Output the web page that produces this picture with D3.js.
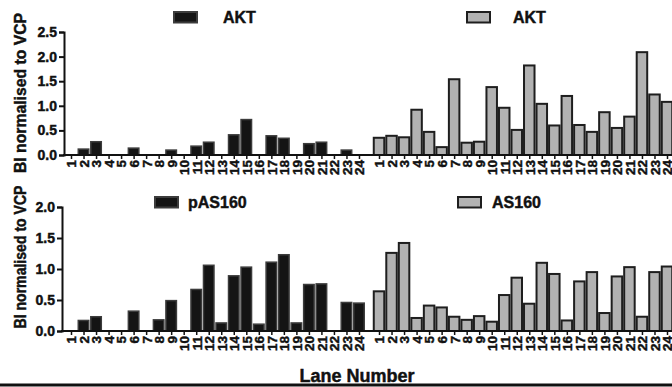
<!DOCTYPE html>
<html>
<head>
<meta charset="utf-8">
<script src="https://cdn.jsdelivr.net/npm/d3@7"></script>
<style>
  html, body { margin: 0; padding: 0; background: #fff; }
  svg { display: block; font-family: "Liberation Sans", Arial, sans-serif; font-weight: bold; }
  svg text { stroke: #111; stroke-width: 0.45px; }
</style>
</head>
<body>
<svg id="chart" width="672" height="387"></svg>
<script>
// lane labels, same 24 lanes for each group
const lanes = ["1","2","3","4","5","6","7","8","9","10","11","12","13","14","15","16","17","18","19","20","21","22","23","24"];

// top panel
const aktLeft  = [0, 0.12, 0.27, 0, 0, 0.14, 0, 0, 0.10, 0, 0.18, 0.26, 0, 0.41, 0.72, 0, 0.39, 0.34, 0, 0.23, 0.26, 0, 0.10, 0];
const aktRight = [0.35, 0.39, 0.36, 0.92, 0.47, 0.16, 1.54, 0.25, 0.27, 1.38, 0.96, 0.51, 1.82, 1.04, 0.60, 1.20, 0.61, 0.47, 0.87, 0.55, 0.78, 2.09, 1.23, 1.08];

// bottom panel
const pas160 = [0, 0.17, 0.23, 0, 0, 0.32, 0, 0.18, 0.49, 0, 0.67, 1.06, 0.13, 0.89, 1.03, 0.11, 1.11, 1.23, 0.13, 0.75, 0.76, 0, 0.46, 0.45];
const as160  = [0.64, 1.26, 1.42, 0.21, 0.41, 0.38, 0.23, 0.18, 0.24, 0.15, 0.58, 0.86, 0.44, 1.10, 0.92, 0.17, 0.80, 0.95, 0.29, 0.88, 1.03, 0.23, 0.95, 1.04];

const topTicks = [0, 0.5, 1.0, 1.5, 2.0, 2.5];
const bottomTicks = [0, 0.5, 1.0, 1.5, 2.0];

const legendTop = ["AKT", "AKT"];
const legendBottom = ["pAS160", "AS160"];

const W = 672, H = 387;
const svg = d3.select("#chart");

const blackFill = "#141414", blackStroke = "#3c3c3c";
const greyFill = "#b2b2b2", greyStroke = "#1e1e1e";

// gap between the two groups, in lane units
const gap = 0.6;
const n = lanes.length;
const pos = (group, i) => group * (n + gap) + i + 1;

const x = d3.scaleLinear()
  .domain([1, pos(1, n - 1)])
  .range([71, 667]);

const barW = 10.5;

function panel(opts) {
  const {axisX, y0, y1, ticks, left, right, legend, legendY, legendX, title, titleY, titleLen} = opts;

  const y = d3.scaleLinear()
    .domain([0, d3.max(ticks)])
    .range([y0, y1]);

  const g = svg.append("g");

  // bars
  const bars = [
    ...left.map((v, i) => ({v, p: pos(0, i), grp: 0})),
    ...right.map((v, i) => ({v, p: pos(1, i), grp: 1}))
  ].filter(d => d.v > 0);

  g.selectAll("rect.bar")
    .data(bars)
    .join("rect")
    .attr("class", "bar")
    .attr("x", d => x(d.p) - barW / 2)
    .attr("y", d => y(d.v))
    .attr("width", barW)
    .attr("height", d => y(0) - y(d.v))
    .attr("fill", d => d.grp ? greyFill : blackFill)
    .attr("stroke", d => d.grp ? greyStroke : blackStroke)
    .attr("stroke-width", d => d.grp ? 2 : 1.5);

  // y axis
  const yAxis = g.append("g")
    .attr("transform", `translate(${axisX},0)`)
    .call(d3.axisLeft(y).tickValues(ticks).tickFormat(d3.format(".1f")).tickSize(5).tickPadding(2));
  yAxis.select(".domain").attr("stroke", "#111").attr("stroke-width", 2);
  yAxis.selectAll(".tick line").attr("stroke", "#111").attr("stroke-width", 2);
  yAxis.selectAll(".tick text")
    .attr("font-size", 14).attr("font-weight", "bold").attr("fill", "#111")
    .attr("font-family", "Liberation Sans, Arial, sans-serif");

  // x axis
  const tickPos = [...lanes.map((l, i) => pos(0, i)), ...lanes.map((l, i) => pos(1, i))];
  const xAxis = g.append("g")
    .attr("transform", `translate(0,${y0})`)
    .call(d3.axisBottom(x).tickValues(tickPos).tickFormat((d, i) => lanes[i % n]).tickSize(4).tickPadding(2));
  xAxis.select(".domain").remove();
  xAxis.selectAll(".tick line").attr("stroke", "#111").attr("stroke-width", 1.5);
  xAxis.selectAll(".tick text")
    .attr("font-size", 13.5).attr("font-weight", "bold").attr("fill", "#111")
    .attr("font-family", "Liberation Sans, Arial, sans-serif")
    .attr("text-anchor", "end")
    .attr("transform", "rotate(-90)")
    .attr("x", -5)
    .attr("y", 0)
    .attr("dy", "0.36em");

  g.append("line")
    .attr("x1", axisX - 1).attr("x2", W)
    .attr("y1", y0).attr("y2", y0)
    .attr("stroke", "#111").attr("stroke-width", 2);

  // legends
  legend.forEach((name, k) => {
    const lx = legendX[k];
    g.append("rect")
      .attr("x", lx).attr("y", legendY - 10)
      .attr("width", 23).attr("height", 10.5)
      .attr("fill", k ? greyFill : blackFill)
      .attr("stroke", k ? greyStroke : blackStroke)
      .attr("stroke-width", 2);
    g.append("text")
      .attr("x", lx + opts.legendGap[k]).attr("y", legendY + 1)
      .attr("font-size", 16).attr("fill", "#111")
      .text(name);
  });

  // y title
  g.append("text")
    .attr("transform", `translate(26,${titleY}) rotate(-90)`)
    .attr("text-anchor", "middle")
    .attr("font-size", 16).attr("fill", "#111")
    .attr("textLength", titleLen).attr("lengthAdjust", "spacingAndGlyphs")
    .text(title);
}

panel({
  axisX: 64, y0: 155, y1: 32, ticks: topTicks,
  left: aktLeft, right: aktRight,
  legend: legendTop, legendY: 22, legendX: [174, 467], legendGap: [49, 46],
  title: "BI normalised to VCP", titleY: 93, titleLen: 160
});

panel({
  axisX: 62, y0: 331, y1: 207, ticks: bottomTicks,
  left: pas160, right: as160,
  legend: legendBottom, legendY: 207, legendX: [155, 458], legendGap: [33, 34],
  title: "BI normalised to VCP", titleY: 257, titleLen: 143
});

svg.append("text")
  .attr("x", 357).attr("y", 382)
  .attr("text-anchor", "middle")
  .attr("font-size", 18).attr("fill", "#111")
  .text("Lane Number");

svg.append("rect")
  .attr("x", 0).attr("y", 383.5).attr("width", W).attr("height", 2.5)
  .attr("fill", "#111");
svg.append("rect")
  .attr("x", 0).attr("y", 386).attr("width", W).attr("height", 1)
  .attr("fill", "#888");
</script>
</body>
</html>
